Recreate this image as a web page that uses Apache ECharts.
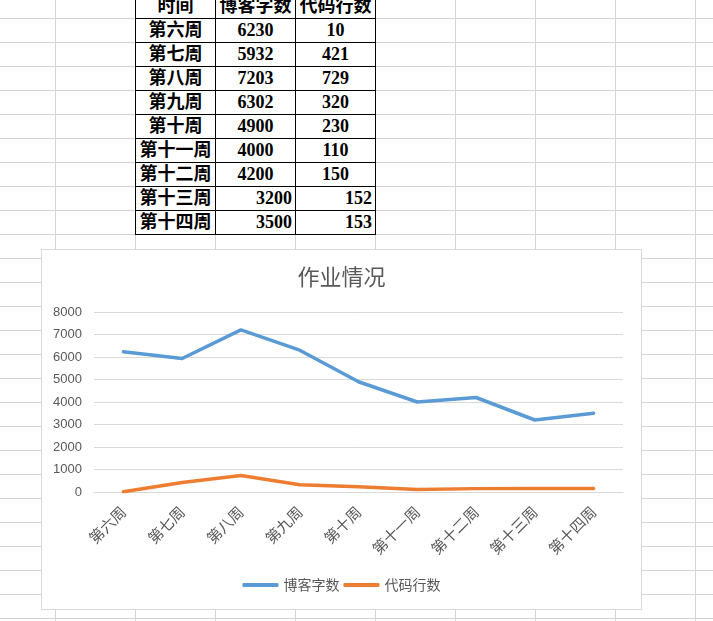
<!DOCTYPE html>
<html>
<head>
<meta charset="utf-8">
<script src="https://cdn.jsdelivr.net/npm/echarts@6/dist/echarts.min.js"></script>
<style>
	html,body{margin:0;padding:0;width:713px;height:621px;overflow:hidden;background:#fff;}
	.sheet{position:absolute;left:0;top:0;width:713px;height:621px;
		background-image:linear-gradient(to right,#d4d4d4 1px,transparent 1px),linear-gradient(to bottom,#d4d4d4 1px,transparent 1px);
		background-size:80px 24px;background-position:55px 18px;}
	.cell{position:absolute;width:81px;height:25px;box-sizing:border-box;border:1px solid #000;background:#fff;
		font:bold 18px "Liberation Serif","Noto Sans CJK SC",serif;line-height:23px;text-align:center;color:#000;white-space:nowrap;}
	.cell.r{text-align:right;padding-right:3px;}
	.box{position:absolute;left:41px;top:249px;width:601px;height:361px;box-sizing:border-box;border:1px solid #d9d9d9;background:#fff;}
	#chart{width:599px;height:359px;}
</style>
</head>
<body>
<div class="sheet"></div>
<div id="table"></div>
<div class="box"><div id="chart"></div></div>
<script>
	// 表格 / 图表数据
	var headers = ['时间', '博客字数', '代码行数'];
	var weeks = ['第六周', '第七周', '第八周', '第九周', '第十周', '第十一周', '第十二周', '第十三周', '第十四周'];
	var blogWords = [6230, 5932, 7203, 6302, 4900, 4000, 4200, 3200, 3500];
	var codeLines = [10, 421, 729, 320, 230, 110, 150, 152, 153];
	// 后两行在表格里是右对齐的
	var rightAligned = [false, false, false, false, false, false, false, true, true];

	var textColor = '#595959';
	var cjk = '"Noto Sans CJK SC", sans-serif';

	// 表格
	var table = document.getElementById('table');
	function addCell(row, col, text, right){
		var d = document.createElement('div');
		d.className = 'cell' + (right ? ' r' : '');
		d.style.left = (135 + col * 80) + 'px';
		d.style.top = (-6 + row * 24) + 'px';
		d.textContent = text;
		table.appendChild(d);
	}
	headers.forEach(function(h, c){ addCell(0, c, h, false); });
	weeks.forEach(function(w, i){
		addCell(i + 1, 0, w, false);
		addCell(i + 1, 1, blogWords[i], rightAligned[i]);
		addCell(i + 1, 2, codeLines[i], rightAligned[i]);
	});

	// 图表
	var chart = echarts.init(document.getElementById('chart'));
	chart.setOption({
		animation: false,
		title: {
			text: '作业情况',
			left: 'center',
			top: 11,
			textStyle: {fontSize: 22, fontWeight: 'normal', color: textColor, fontFamily: cjk}
		},
		legend: {
			data: [headers[1], headers[2]],
			left: 'center',
			top: 328,
			padding: 0,
			icon: 'roundRect',
			itemWidth: 36,
			itemHeight: 4,
			itemGap: 4,
			textStyle: {fontSize: 14, color: textColor, fontFamily: cjk}
		},
		grid: {left: 52, right: 18, top: 62, bottom: 117},
		xAxis: {
			type: 'category',
			data: weeks,
			boundaryGap: true,
			axisLine: {lineStyle: {color: '#d9d9d9', width: 1}},
			axisTick: {show: false},
			axisLabel: {rotate: 45, interval: 0, margin: 17, fontSize: 15, color: textColor, fontFamily: cjk}
		},
		yAxis: {
			type: 'value',
			min: 0,
			max: 8000,
			interval: 1000,
			axisLine: {show: false},
			axisTick: {show: false},
			splitLine: {lineStyle: {color: '#d9d9d9', width: 1}},
			axisLabel: {
				margin: 12,
				fontSize: 13,
				color: textColor,
				fontFamily: '"Liberation Sans", sans-serif',
				formatter: function(v){ return String(v); }
			}
		},
		series: [
			{
				name: headers[1],
				type: 'line',
				data: blogWords,
				showSymbol: false,
				itemStyle: {color: '#5B9BD5'},
				lineStyle: {color: '#5B9BD5', width: 3.5, cap: 'round', join: 'round'}
			},
			{
				name: headers[2],
				type: 'line',
				data: codeLines,
				showSymbol: false,
				itemStyle: {color: '#ED7D31'},
				lineStyle: {color: '#ED7D31', width: 3.5, cap: 'round', join: 'round'}
			}
		]
	});
</script>
</body>
</html>
